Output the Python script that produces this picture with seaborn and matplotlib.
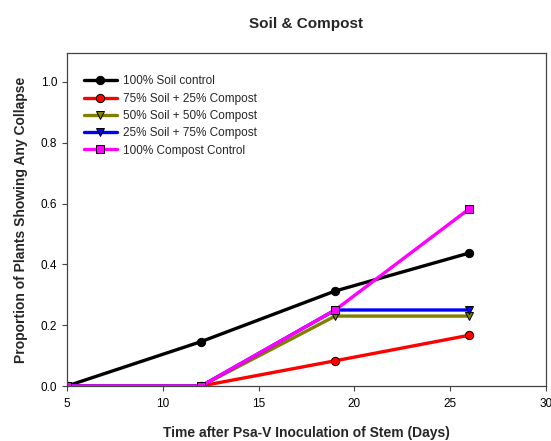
import seaborn as sns
import matplotlib.pyplot as plt
import pandas as pd

# days after inoculation
days = [5, 12, 19, 26]

treatments = ["100% Soil control", "75% Soil + 25% Compost", "50% Soil + 50% Compost",
              "25% Soil + 75% Compost", "100% Compost Control"]

soil_100 = [0.0, 0.146, 0.3125, 0.4375]
soil_75 = [0.0, 0.0, 0.083, 0.167]
soil_50 = [0.0, 0.0, 0.23, 0.23]
soil_25 = [0.0, 0.0, 0.25, 0.25]
compost_100 = [0.0, 0.0, 0.25, 0.583]

colors = ["black", "red", "#808000", "blue", "magenta"]
marker_list = ["o", "o", "v", "v", "s"]

# long table for seaborn
rows = []
for name, vals in zip(treatments, [soil_100, soil_75, soil_50, soil_25, compost_100]):
    for d, v in zip(days, vals):
        rows.append({"Day": d, "Proportion": v, "Treatment": name})
df = pd.DataFrame(rows)

sns.set_style("ticks")
plt.rcParams['font.family'] = ['Liberation Sans', 'DejaVu Sans']

fig = plt.figure(figsize=(5.51, 4.41), dpi=100)
ax = fig.add_axes([0.1216, 0.1247, 0.8693, 0.755])

sns.lineplot(data=df, x="Day", y="Proportion", hue="Treatment", style="Treatment",
             hue_order=treatments, style_order=treatments,
             palette=dict(zip(treatments, colors)),
             markers=dict(zip(treatments, marker_list)), dashes=False,
             linewidth=2.4, markersize=6, markeredgecolor="black", markeredgewidth=0.7,
             ax=ax)

ax.set_xlim(5, 30)
ax.set_ylim(0, 1.095)
ax.set_xticks([5, 10, 15, 20, 25, 30])
ax.set_yticks([0.0, 0.2, 0.4, 0.6, 0.8, 1.0])
ax.set_yticklabels(["0.0", "0.2", "0.4", "0.6", "0.8", "1.0"])
ax.tick_params(labelsize=8.5, length=3.5, width=0.8, direction="out", colors="#444444", labelcolor="black")
ax.tick_params(axis="x", pad=5)
for s in ax.spines.values():
    s.set_linewidth(0.9)
    s.set_color("#444444")

ax.set_xlabel("Time after Psa-V Inoculation of Stem (Days)", fontsize=10, fontweight="bold", labelpad=12)
ax.set_ylabel("Proportion of Plants Showing Any Collapse", fontsize=10, fontweight="bold", labelpad=9)
ax.set_title("Soil & Compost", fontsize=11, fontweight="bold", pad=18)

ax.legend(loc="upper left", bbox_to_anchor=(0.035, 0.933), frameon=False, fontsize=8.5,
          handlelength=2.8, handletextpad=0.5, labelspacing=0.45, borderaxespad=0, borderpad=0)

fig.savefig("out.png", dpi=100)
